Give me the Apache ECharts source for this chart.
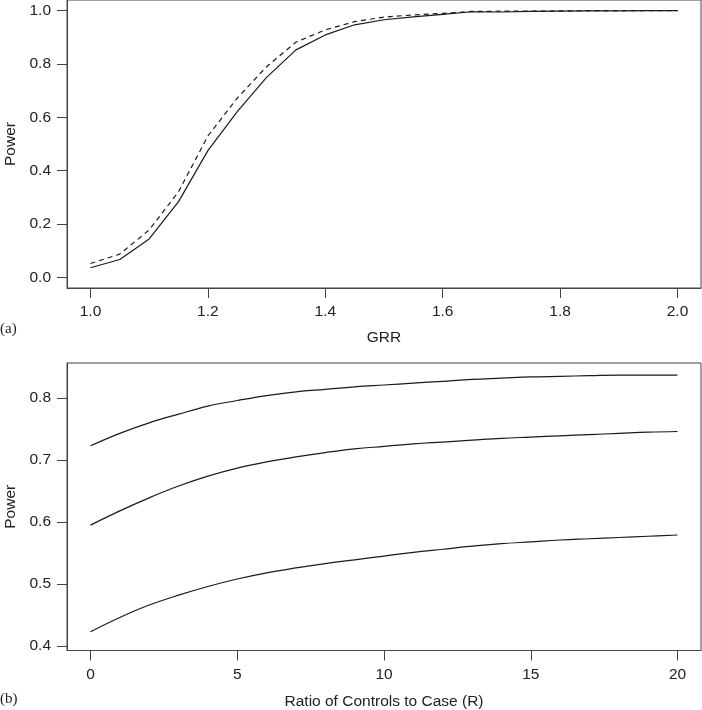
<!DOCTYPE html>
<html>
<head>
<meta charset="utf-8">
<script src="https://cdn.jsdelivr.net/npm/echarts@6/dist/echarts.min.js"></script>
<style>
html,body{margin:0;padding:0;background:#fff;}
#c{width:702px;height:710px;}
</style>
</head>
<body>
<div id="c"></div>
<script>
// Panel (a): power vs GRR
const grr = [1.00,1.05,1.10,1.15,1.20,1.25,1.30,1.35,1.40,1.45,1.50,1.55,1.60,1.65,1.70,1.75,1.80,1.85,1.90,1.95,2.00];
const powerSolid  = [0.036,0.067,0.144,0.284,0.475,0.621,0.750,0.853,0.909,0.947,0.966,0.977,0.986,0.996,0.995,0.997,0.998,0.999,0.999,1.000,1.000];
const powerDashed = [0.052,0.087,0.178,0.321,0.530,0.672,0.790,0.882,0.928,0.959,0.976,0.984,0.990,0.997,0.998,0.998,0.999,1.000,1.000,1.000,1.000];
const grrTicks = [1.0,1.2,1.4,1.6,1.8,2.0];
const powerTicksA = [0.0,0.2,0.4,0.6,0.8,1.0];

// Panel (b): power vs ratio of controls to case
const ratioR = [0,1,2,3,4,5,6,7,8,9,10,11,12,13,14,15,16,17,18,19,20];
const powerHigh = [0.723,0.743,0.760,0.774,0.787,0.796,0.804,0.810,0.814,0.818,0.821,0.824,0.827,0.830,0.832,0.834,0.835,0.836,0.837,0.837,0.837];
const powerMid  = [0.595,0.618,0.639,0.658,0.674,0.687,0.697,0.705,0.712,0.718,0.722,0.726,0.729,0.732,0.735,0.737,0.739,0.741,0.743,0.745,0.746];
const powerLow  = [0.423,0.446,0.466,0.482,0.496,0.508,0.518,0.526,0.533,0.539,0.545,0.551,0.556,0.561,0.565,0.568,0.571,0.573,0.575,0.577,0.579];
const ratioTicks = [0,5,10,15,20];
const powerTicksB = [0.4,0.5,0.6,0.7,0.8];

const FONT = 'Liberation Sans';
const AX = '#444';
const LINE = '#1a1a1a';
const pairs = (xs, ys) => xs.map((x, i) => [x, ys[i]]);

function valAxis(gridIndex, min, max, ticks, fmt, extra) {
  return Object.assign({
    type: 'value', gridIndex, min, max,
    axisLine: {show: true, onZero: false, lineStyle: {color: AX, width: 1}},
    axisTick: {show: true, inside: false, length: 10, customValues: ticks, lineStyle: {color: AX, width: 1}},
    axisLabel: {show: true, customValues: ticks, formatter: fmt, color: '#222', fontSize: 15.5, fontFamily: FONT, margin: 16},
    splitLine: {show: false},
    nameTextStyle: {color: '#222', fontSize: 15.5, fontFamily: FONT}
  }, extra || {});
}

const f1 = v => Number(v).toFixed(1);
const f0 = v => String(Math.round(v));

const chart = echarts.init(document.getElementById('c'), null, {renderer: 'canvas'});
chart.setOption({
  animation: false,
  backgroundColor: '#fff',
  grid: [
    {left: 67, top: 0, width: 634, height: 288, show: true, borderColor: AX, borderWidth: 1, containLabel: false, outerBoundsMode: 'none'},
    {left: 67, top: 363, width: 634, height: 287.5, show: true, borderColor: AX, borderWidth: 1, containLabel: false, outerBoundsMode: 'none'}
  ],
  xAxis: [
    valAxis(0, 0.96, 2.04, grrTicks, f1, {name: 'GRR', nameLocation: 'middle', nameGap: 42}),
    valAxis(1, -0.8, 20.8, ratioTicks, f0, {name: 'Ratio of Controls to Case (R)', nameLocation: 'middle', nameGap: 43})
  ],
  yAxis: [
    valAxis(0, -0.04, 1.04, powerTicksA, f1, {name: 'Power', nameLocation: 'middle', nameGap: 48, nameRotate: 90}),
    valAxis(1, 0.3927, 0.8565, powerTicksB, f1, {name: 'Power', nameLocation: 'middle', nameGap: 48, nameRotate: 90})
  ],
  graphic: [
    {type: 'text', left: 0, top: 322, style: {text: '(a)', fontSize: 15, fontFamily: 'Liberation Serif', fill: '#222'}},
    {type: 'text', left: 0, top: 692, style: {text: '(b)', fontSize: 15, fontFamily: 'Liberation Serif', fill: '#222'}}
  ],
  series: [
    {type: 'line', xAxisIndex: 0, yAxisIndex: 0, data: pairs(grr, powerSolid), showSymbol: false, symbol: 'none',
      lineStyle: {color: LINE, width: 1.2, type: 'solid'}},
    {type: 'line', xAxisIndex: 0, yAxisIndex: 0, data: pairs(grr, powerDashed), showSymbol: false, symbol: 'none',
      lineStyle: {color: LINE, width: 1.2, type: [5, 4]}},
    {type: 'line', xAxisIndex: 1, yAxisIndex: 1, data: pairs(ratioR, powerHigh), showSymbol: false, symbol: 'none', smooth: 0.4,
      lineStyle: {color: LINE, width: 1.2}},
    {type: 'line', xAxisIndex: 1, yAxisIndex: 1, data: pairs(ratioR, powerMid), showSymbol: false, symbol: 'none', smooth: 0.4,
      lineStyle: {color: LINE, width: 1.2}},
    {type: 'line', xAxisIndex: 1, yAxisIndex: 1, data: pairs(ratioR, powerLow), showSymbol: false, symbol: 'none', smooth: 0.4,
      lineStyle: {color: LINE, width: 1.2}}
  ]
});
</script>
</body>
</html>
